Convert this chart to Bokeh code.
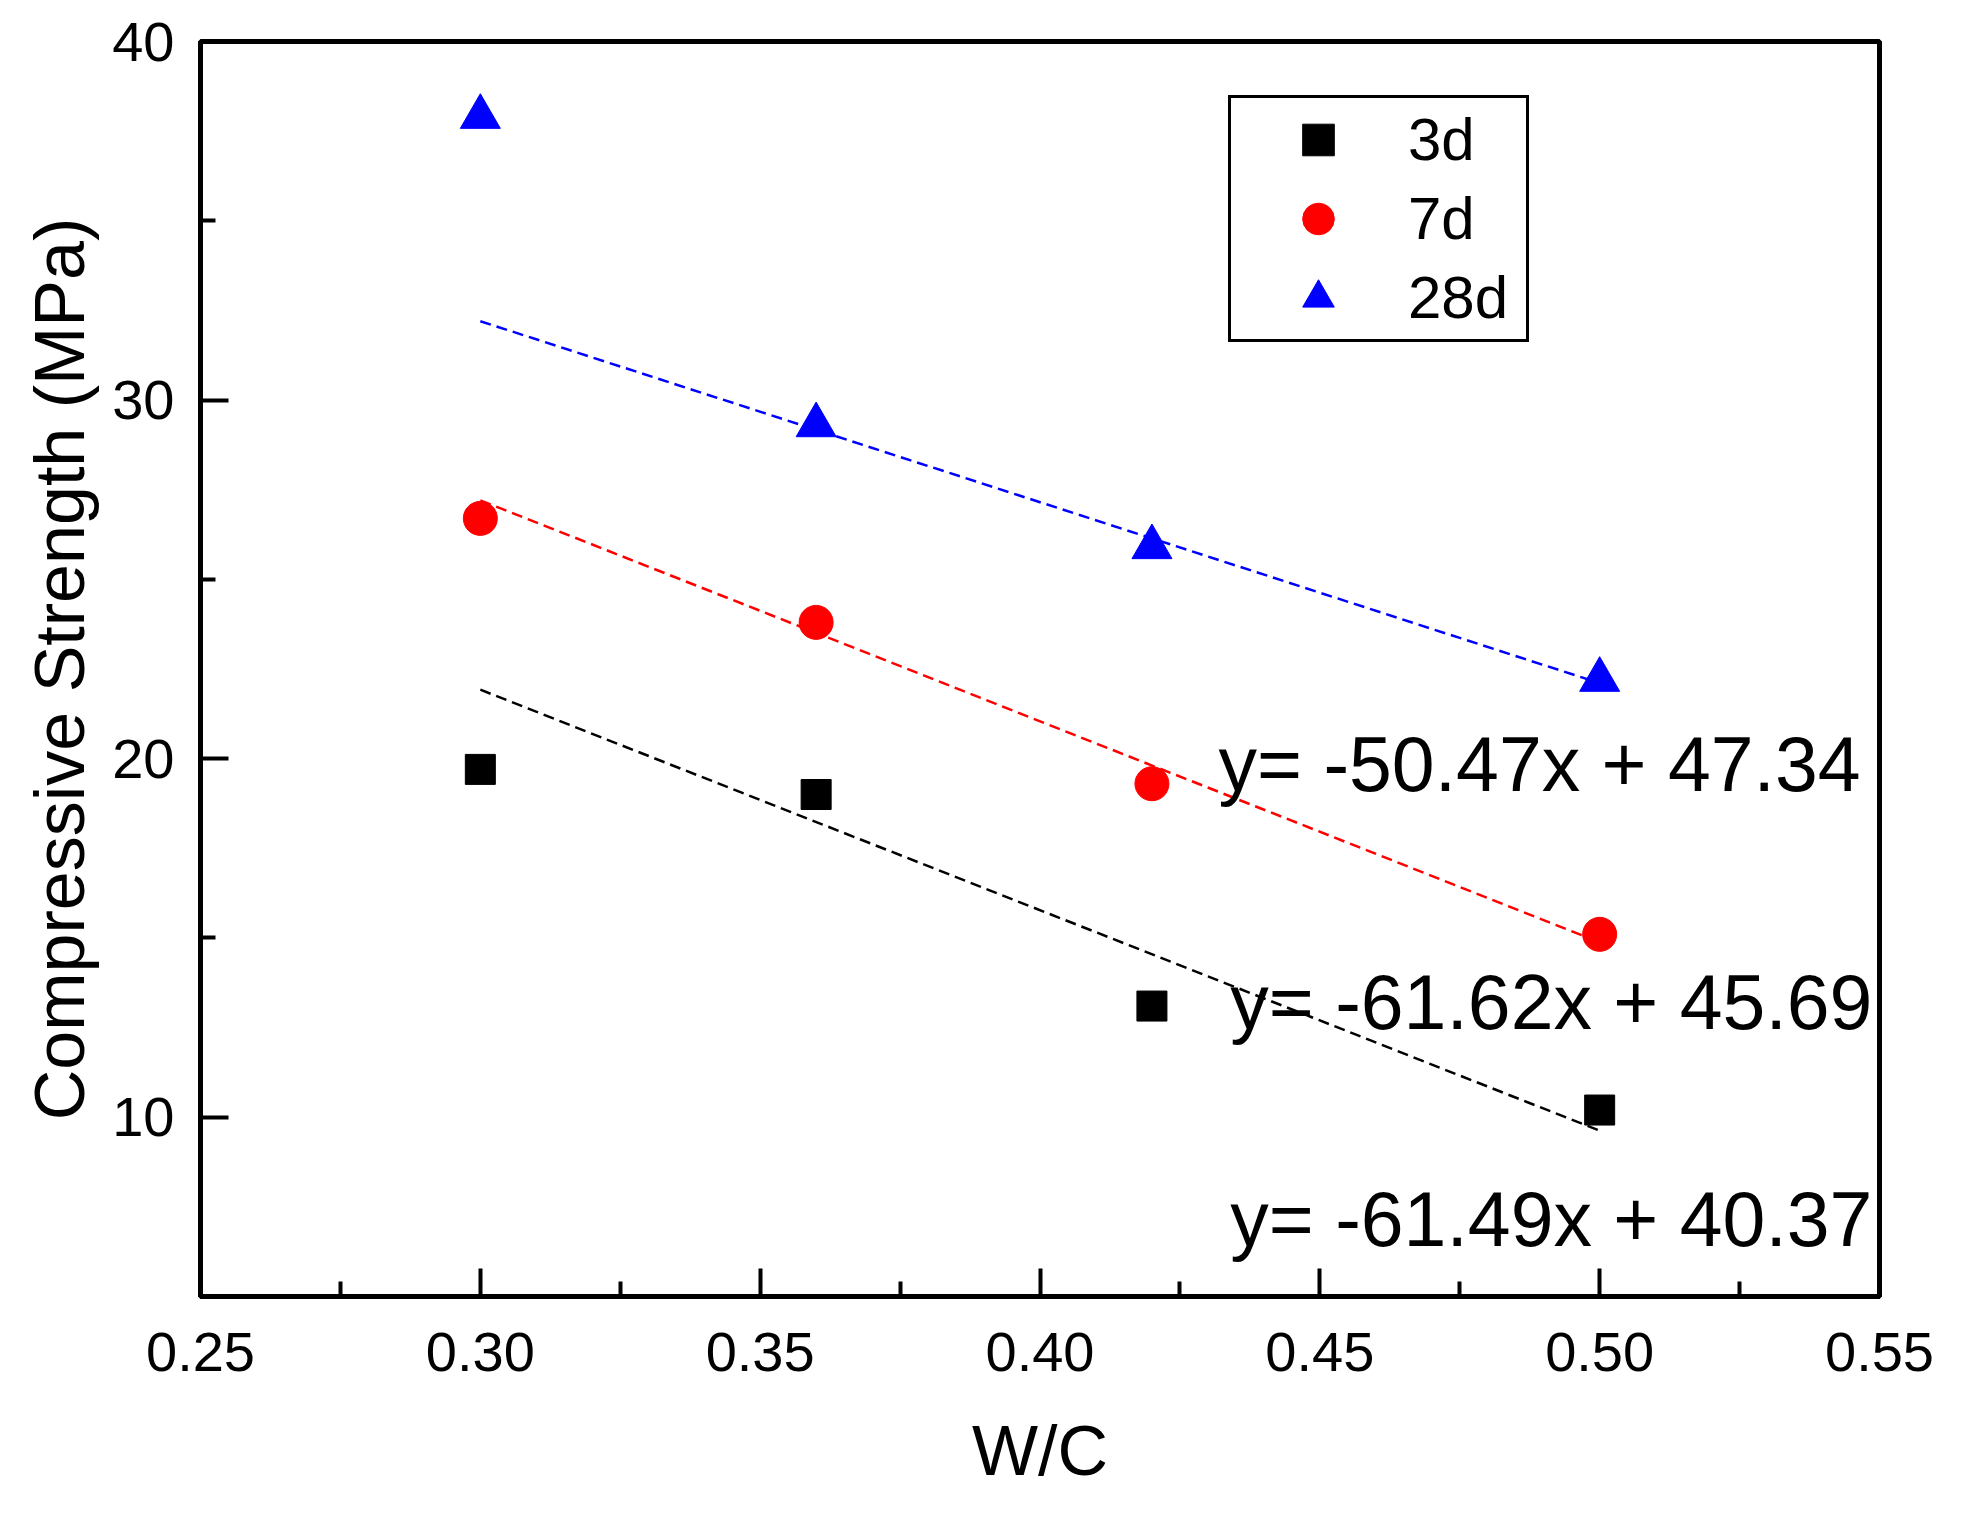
from bokeh.plotting import figure
from bokeh.models import Range1d, FixedTicker, PrintfTickFormatter, Legend, LegendItem
from bokeh.core.properties import value
from bokeh.embed import file_html
from bokeh.resources import INLINE

# water / cement ratio
wc = [0.30, 0.36, 0.42, 0.50]

# compressive strength (MPa) per curing age
strength_3d = [19.7, 19.0, 13.1, 10.2]
strength_7d = [26.7, 23.8, 19.3, 15.1]
strength_28d = [37.9, 29.3, 25.9, 22.2]

series_names = ["3d", "7d", "28d"]

# linear fits as printed on the chart (3d, 7d, 28d)
fit_slope = [-61.49, -61.62, -50.47]
fit_intercept = [40.37, 45.69, 47.34]
fit_span = [0.30, 0.50]

x_ticks = [0.25, 0.30, 0.35, 0.40, 0.45, 0.50, 0.55]
x_minor = [0.275, 0.325, 0.375, 0.425, 0.475, 0.525]
y_ticks = [10, 20, 30, 40]
y_minor = [15, 25, 35]

FONT = "Liberation Sans"
colors = ["black", "red", "blue"]

# where the fit equations sit (data units, left / middle)
eq_x = [0.434, 0.434, 0.4319]
eq_y = [7.15, 13.20, 19.84]

p = figure(width=1950, height=1497,
           x_range=Range1d(0.25, 0.55), y_range=Range1d(5, 40),
           output_backend="svg", toolbar_location=None, tools="",
           min_border_left=200, min_border_right=71,
           min_border_top=41, min_border_bottom=201)

p.background_fill_color = "white"
p.border_fill_color = "white"
p.xgrid.visible = False
p.ygrid.visible = False
p.outline_line_color = "black"
p.outline_line_width = 5
p.outline_line_alpha = 1

p.xaxis.ticker = FixedTicker(ticks=x_ticks, minor_ticks=x_minor)
p.yaxis.ticker = FixedTicker(ticks=y_ticks, minor_ticks=y_minor)
p.xaxis.formatter = PrintfTickFormatter(format="%.2f")
p.yaxis.formatter = PrintfTickFormatter(format="%d")
p.xaxis.axis_label = "W/C"
p.yaxis.axis_label = "Compressive Strength (MPa)"

for ax in (p.xaxis[0], p.yaxis[0]):
    ax.axis_line_width = 5
    ax.axis_line_color = "black"
    ax.major_tick_in = 28
    ax.major_tick_out = 0
    ax.minor_tick_in = 15
    ax.minor_tick_out = 0
    ax.major_tick_line_width = 4
    ax.minor_tick_line_width = 4
    ax.major_tick_line_color = "black"
    ax.minor_tick_line_color = "black"
    ax.major_label_text_font = FONT
    ax.major_label_text_font_size = "56px"
    ax.major_label_text_color = "black"
    ax.axis_label_text_font = FONT
    ax.axis_label_text_font_size = "70px"
    ax.axis_label_text_font_style = "normal"
    ax.axis_label_text_color = "black"

p.xaxis.major_label_standoff = 36
p.xaxis.axis_label_standoff = 38
p.yaxis.major_label_standoff = 26
p.yaxis.axis_label_standoff = 10

# dashed linear fits
for m, b, c in zip(fit_slope, fit_intercept, colors):
    p.line(fit_span, [m * x + b for x in fit_span], line_color=c,
           line_width=2.5, line_dash="11 6")

r3 = p.scatter(wc, strength_3d, marker="square", size=30, color="black")
r7 = p.scatter(wc, strength_7d, marker="circle", size=34, color="red")
r28 = p.scatter(wc, strength_28d, marker="triangle", size=40, color="blue")

eq_text = [f"y= {m:.2f}x + {b:.2f}" for m, b in zip(fit_slope, fit_intercept)]
p.text(x=eq_x, y=eq_y, text=eq_text, text_font=value(FONT),
       text_font_size="77px", text_color="black",
       text_align="left", text_baseline="middle")

legend = Legend(items=[LegendItem(label=n, renderers=[r])
                       for n, r in zip(series_names, [r3, r7, r28])],
                location=(1028, 954), margin=0, padding=2, spacing=0,
                glyph_width=170, glyph_height=79, label_standoff=5,
                label_width=116, label_height=79,
                label_text_font=FONT, label_text_font_size="60px",
                label_text_color="black",
                border_line_color="black", border_line_width=3,
                border_line_alpha=1,
                background_fill_color="white", background_fill_alpha=1)
p.add_layout(legend)

open("out.html", "w").write(file_html(p, INLINE))
